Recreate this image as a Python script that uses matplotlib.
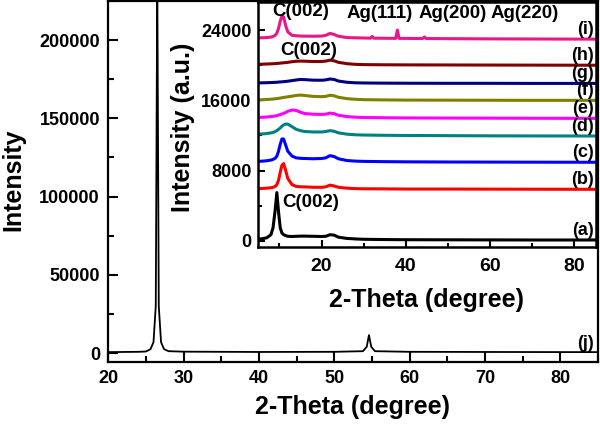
import matplotlib
matplotlib.use('Agg')
import matplotlib.pyplot as plt
from matplotlib.ticker import MultipleLocator

plt.rcParams['font.family'] = ['Liberation Sans', 'DejaVu Sans']
plt.rcParams['font.weight'] = 'bold'
plt.rcParams['axes.labelweight'] = 'bold'

# main pattern (j)
main_tt = [20, 24, 25, 25.6, 26.0, 26.3, 26.5, 26.7, 27.0, 27.4, 28, 30, 40, 50,
           53.8, 54.3, 54.6, 54.9, 55.4, 60, 70, 85]
main_int = [600, 800, 1000, 2500, 7000, 30000, 240000, 30000, 7000, 2500, 1200, 900,
            700, 800, 1200, 4000, 11500, 4000, 1200, 800, 700, 600]

# inset patterns (a)-(h), common 2-theta grid
inset_tt = [5, 6, 7, 8, 8.5, 9, 9.4, 9.8, 10.2, 10.6, 11, 11.5, 12, 13, 14, 15, 16,
            18, 20, 21, 22, 23, 24, 26, 28, 30, 35, 40, 50, 60, 70, 85]
a = [200, 250, 350, 700, 1500, 3500, 5500, 3300, 1500, 900, 700, 600, 520, 500, 520,
     540, 540, 520, 500, 520, 700, 650, 420, 280, 220, 180, 150, 130, 120, 110, 100, 100]
b = [5950, 5970, 6000, 6050, 6100, 6200, 6400, 6900, 7800, 8600, 8800, 8000, 7100,
     6400, 6200, 6150, 6150, 6100, 6100, 6150, 6350, 6250, 6100, 6000, 5950, 5930,
     5920, 5900, 5900, 5890, 5880, 5870]
c = [9050, 9080, 9120, 9200, 9280, 9400, 9650, 10200, 11000, 11600, 11600, 10900,
     10200, 9650, 9450, 9400, 9380, 9350, 9380, 9450, 9700, 9600, 9350, 9150, 9080,
     9050, 9020, 9000, 8980, 8970, 8960, 8950]
d = [12150, 12180, 12220, 12300, 12350, 12450, 12550, 12700, 12850, 13050, 13200,
     13300, 13300, 13000, 12700, 12550, 12450, 12400, 12400, 12450, 12550, 12480,
     12300, 12150, 12080, 12050, 12020, 12000, 11980, 11960, 11950, 11940]
e = [14050, 14080, 14100, 14150, 14180, 14220, 14260, 14320, 14380, 14450, 14520,
     14620, 14750, 14900, 14850, 14650, 14500, 14420, 14400, 14430, 14550, 14480,
     14300, 14150, 14080, 14050, 14020, 14000, 13980, 13970, 13960, 13950]
f = [16050, 16070, 16100, 16130, 16150, 16180, 16200, 16230, 16260, 16300, 16330,
     16370, 16400, 16480, 16560, 16600, 16560, 16450, 16420, 16450, 16580, 16520,
     16350, 16200, 16120, 16080, 16050, 16030, 16020, 16010, 16000, 16000]
g = [17980, 18000, 18010, 18030, 18040, 18050, 18060, 18080, 18100, 18110, 18130,
     18150, 18180, 18250, 18320, 18380, 18360, 18300, 18290, 18330, 18430, 18380,
     18200, 18060, 18000, 17980, 17960, 17950, 17940, 17940, 17930, 17930]
h = [20100, 20120, 20140, 20160, 20170, 20180, 20200, 20220, 20240, 20260, 20280,
     20300, 20330, 20400, 20450, 20470, 20460, 20420, 20420, 20470, 20580, 20500,
     20330, 20180, 20100, 20070, 20050, 20040, 20030, 20020, 20010, 20000]

# pattern (i) with Ag reflections
i_tt = [5, 7, 8, 8.5, 9, 9.4, 9.8, 10.2, 10.6, 11, 11.5, 12, 13, 15, 18, 20, 21, 22,
        23, 24, 26, 30, 31.6, 32, 32.4, 37.6, 38, 38.4, 44, 44.4, 44.8, 60, 85]
i_int = [23120, 23150, 23200, 23280, 23400, 23650, 24200, 25000, 25600, 25500, 24500,
         23800, 23400, 23320, 23300, 23320, 23400, 23620, 23500, 23300, 23150, 23100,
         23080, 23280, 23080, 23060, 24000, 23060, 23040, 23220, 23040, 23000, 22970]

labels = ['(a)', '(b)', '(c)', '(d)', '(e)', '(f)', '(g)', '(h)', '(i)']
colors = ['black', '#ff0000', '#0000ff', '#008080', '#ff00ff', '#808000',
          '#000080', '#800000', '#e8178a']

fig = plt.figure(figsize=(6, 4.25), dpi=100)

ax = fig.add_axes([0.1805, 0.149, 0.8162, 0.8487])
ax.plot(main_tt, main_int, color='black', lw=1.3)
ax.set_xlim(20, 85)
ax.set_ylim(-5500, 225000)
ax.xaxis.set_major_locator(MultipleLocator(10))
ax.xaxis.set_minor_locator(MultipleLocator(5))
ax.yaxis.set_major_locator(MultipleLocator(50000))
ax.yaxis.set_minor_locator(MultipleLocator(25000))
ax.tick_params(which='both', direction='in', width=1.5, labelsize=13)
ax.tick_params(which='major', length=7, pad=6)
ax.tick_params(which='minor', length=4)
for s in ax.spines.values():
    s.set_linewidth(1.6)
ax.set_xlabel('2-Theta (degree)', fontsize=18)
ax.set_ylabel('Intensity', fontsize=18)
ax.xaxis.set_label_coords(0.498, -0.1256)
ax.xaxis.label.set_verticalalignment('center')
ax.yaxis.set_label_coords(-0.1945, 0.504)
ax.yaxis.label.set_verticalalignment('center')
ax.text(84.4, main_int[-1] + 5800, '(j)', ha='right', va='center', fontsize=13)

# inset
ins = fig.add_axes([0.4305, 0.4188, 0.562, 0.5765])
ins.set_facecolor('white')
series = [a, b, c, d, e, f, g, h]
for ys, col in zip(series, colors[:8]):
    ins.plot(inset_tt, ys, color=col, lw=2.2)
ins.plot(i_tt, i_int, color=colors[8], lw=2.2)
lasts = [s[-1] for s in series] + [i_int[-1]]
for lab, yl in zip(labels, lasts):
    ins.text(84.6, yl + 1100, lab, ha='right', va='center', fontsize=13)

ins.text(10.6, 4320, 'C(002)', ha='left', va='center', fontsize=13.5)
ins.text(10.1, 21700, 'C(002)', ha='left', va='center', fontsize=13.5)
ins.text(8.4, 26150, 'C(002)', ha='left', va='center', fontsize=13.5)
ins.text(26.0, 25850, 'Ag(111)', ha='left', va='center', fontsize=13.5)
ins.text(43.0, 25850, 'Ag(200)', ha='left', va='center', fontsize=13.5)
ins.text(60.0, 25850, 'Ag(220)', ha='left', va='center', fontsize=13.5)

ins.set_xlim(5, 85)
ins.set_ylim(-700, 27200)
ins.xaxis.set_major_locator(MultipleLocator(20))
ins.xaxis.set_minor_locator(MultipleLocator(10))
ins.yaxis.set_major_locator(MultipleLocator(8000))
ins.yaxis.set_minor_locator(MultipleLocator(4000))
ins.tick_params(which='both', direction='in', width=1.5)
ins.tick_params(axis='y', which='major', length=5, pad=5, labelsize=13)
ins.tick_params(axis='x', which='major', length=5, pad=8, labelsize=14)
ins.tick_params(which='minor', length=3)
for s in ins.spines.values():
    s.set_linewidth(1.8)
ins.set_xlabel('2-Theta (degree)', fontsize=18)
ins.set_ylabel('Intensity (a.u.)', fontsize=18)
ins.xaxis.set_label_coords(0.5, -0.216)
ins.xaxis.label.set_verticalalignment('center')
ins.yaxis.set_label_coords(-0.223, 0.488)
ins.yaxis.label.set_verticalalignment('center')

fig.savefig('out.png', dpi=100)
